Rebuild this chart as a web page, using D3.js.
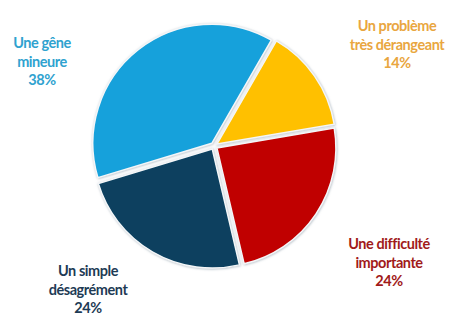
<!DOCTYPE html>
<html>
<head>
<meta charset="utf-8">
<script src="https://cdn.jsdelivr.net/npm/d3@7"></script>
<style>
  body { margin: 0; background: #fff; }
  svg { display: block; }
  text { font-family: Lato, "Open Sans", sans-serif; font-weight: bold; }
</style>
</head>
<body>
<svg></svg>
<script>
var width = 460, height = 333;

// data
var categories = [
  ["Un problème", "très dérangeant"],
  ["Une difficulté", "importante"],
  ["Un simple", "désagrément"],
  ["Une gêne", "mineure"]
];
var values = [14, 24, 24, 38];
var sliceColors = ["#FFC000", "#C00000", "#08405F", "#16A1DB"];
var labelColors = ["#E9A640", "#A11A1A", "#1E3B55", "#2FA2CF"];

// where each label block sits (center x, first line y)
var labelPos = [[397, 31], [389, 249], [88, 276], [42, 48]];

var cx = 214, cy = 146, radius = 119, explode = 3.5;

var svg = d3.select("svg")
    .attr("width", width)
    .attr("height", height);

var defs = svg.append("defs");
var shadow = defs.append("filter").attr("id", "shadow")
    .attr("x", "-20%").attr("y", "-20%").attr("width", "140%").attr("height", "140%");
shadow.append("feDropShadow")
    .attr("dx", 0.5).attr("dy", 0.5).attr("stdDeviation", 1)
    .attr("flood-color", "#8a9aa8").attr("flood-opacity", 0.7);

var pie = d3.pie()
    .sort(null)
    .startAngle(30 * Math.PI / 180)
    .endAngle(390 * Math.PI / 180);

var arc = d3.arc().innerRadius(0).outerRadius(radius);

var arcs = pie(values);

var g = svg.append("g").attr("transform", "translate(" + cx + "," + cy + ")");

g.selectAll("path")
    .data(arcs)
    .enter()
    .append("path")
    .attr("d", arc)
    .attr("fill", function (d, i) { return sliceColors[i]; })
    .attr("stroke", "#f4f6f8")
    .attr("stroke-width", 1.5)
    .attr("filter", "url(#shadow)")
    .attr("transform", function (d) {
        var a = (d.startAngle + d.endAngle) / 2;
        return "translate(" + (Math.sin(a) * explode) + "," + (-Math.cos(a) * explode) + ")";
    });

var labels = svg.selectAll("text.lbl")
    .data(arcs)
    .enter()
    .append("text")
    .attr("class", "lbl")
    .attr("text-anchor", "middle")
    .attr("font-size", 14.5)
    .attr("letter-spacing", -0.45)
    .attr("fill", function (d, i) { return labelColors[i]; })
    .attr("x", function (d, i) { return labelPos[i][0]; })
    .attr("y", function (d, i) { return labelPos[i][1]; });

labels.each(function (d, i) {
    var t = d3.select(this);
    var lines = categories[i].concat([values[i] + "%"]);
    lines.forEach(function (line, k) {
        t.append("tspan")
            .attr("x", labelPos[i][0])
            .attr("dy", k == 0 ? 0 : 18.5)
            .text(line);
    });
});
</script>
</body>
</html>
